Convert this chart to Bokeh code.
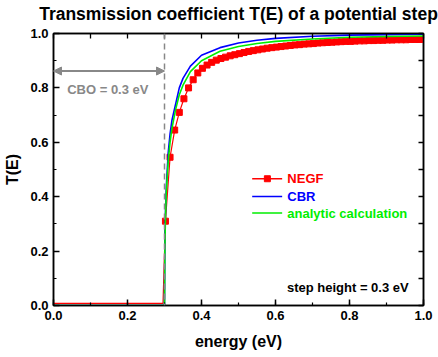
from bokeh.plotting import figure
from bokeh.models import (Range1d, LinearAxis, SingleIntervalTicker, FixedTicker,
                          NumeralTickFormatter, Span, Arrow, NormalHead, Label)
from bokeh.embed import file_html
from bokeh.resources import INLINE

# ---------------- data ----------------
# analytic calculation & CBR (sampled energies, eV)
e_model = [0.0, 0.3, 0.301, 0.303, 0.305, 0.31, 0.315, 0.32, 0.33, 0.34, 0.35, 0.37,
           0.4, 0.45, 0.5, 0.55, 0.6, 0.7, 0.8, 0.9, 1.0]
t_cbr = [0.0, 0.0, 0.25, 0.36, 0.44, 0.56, 0.63, 0.68, 0.74, 0.80, 0.835, 0.88,
         0.92, 0.948, 0.965, 0.975, 0.982, 0.99, 0.994, 0.996, 0.997]
t_analytic = [0.0, 0.0, 0.22, 0.34, 0.42, 0.53, 0.60, 0.65, 0.72, 0.775, 0.81, 0.86,
              0.90, 0.935, 0.952, 0.963, 0.971, 0.98, 0.986, 0.989, 0.991]

# NEGF: flat part below the step (line only)
e_negf_low = [0.0, 0.296]
t_negf_low = [0.008, 0.008]
# NEGF: computed points above the step (markers)
e_negf = [0.3025, 0.315, 0.3275, 0.34, 0.3525, 0.365, 0.3775, 0.39, 0.4025, 0.415,
          0.4275, 0.44, 0.4525, 0.465, 0.4775, 0.49, 0.5025, 0.515, 0.5275, 0.54,
          0.5525, 0.565, 0.5775, 0.59, 0.6025, 0.615, 0.6275, 0.64, 0.6525, 0.665,
          0.6775, 0.69, 0.7025, 0.715, 0.7275, 0.74, 0.7525, 0.765, 0.7775, 0.79,
          0.8025, 0.815, 0.8275, 0.84, 0.8525, 0.865, 0.8775, 0.89, 0.9025, 0.915,
          0.9275, 0.94, 0.9525, 0.965, 0.9775, 0.99]
t_negf = [0.31, 0.545, 0.645, 0.71, 0.76, 0.80, 0.83, 0.855, 0.872, 0.884,
          0.894, 0.902, 0.908, 0.913, 0.918, 0.922, 0.926, 0.93, 0.934, 0.937,
          0.94, 0.943, 0.946, 0.948, 0.95, 0.952, 0.954, 0.956, 0.958, 0.959,
          0.961, 0.962, 0.963, 0.965, 0.966, 0.967, 0.968, 0.969, 0.97, 0.971,
          0.971, 0.972, 0.973, 0.973, 0.974, 0.974, 0.975, 0.975, 0.976, 0.976,
          0.977, 0.977, 0.977, 0.978, 0.978, 0.978]

# tick marks for the mirrored (unlabelled) top and right axes
mirror_ticks = [0.0, 0.1, 0.2, 0.3, 0.4, 0.5, 0.6, 0.7, 0.8, 0.9, 1.0]

step_height = 0.3
cbo_level = 0.862

title_text = "Transmission coefficient T(E) of a potential step"
x_label = "energy (eV)"
y_label = "T(E)"

RED = "#ff0000"
BLUE = "#0000ff"
GREEN = "#00ee00"
GRAY = "#888888"
FONT = "Liberation Sans"

# ---------------- figure ----------------
p = figure(width=438, height=357, output_backend="svg", toolbar_location=None,
           title=None, x_range=Range1d(0, 1), y_range=Range1d(0, 1),
           min_border_left=53, min_border_right=15, min_border_top=0, min_border_bottom=52)
p.grid.visible = False
p.outline_line_color = "black"
p.outline_line_width = 1.5

for ax in (p.xaxis[0], p.yaxis[0]):
    ax.ticker = SingleIntervalTicker(interval=0.2, num_minor_ticks=2)
    ax.formatter = NumeralTickFormatter(format="0.0")
    ax.major_tick_in = 6
    ax.major_tick_out = 0
    ax.minor_tick_in = 3
    ax.minor_tick_out = 0
    ax.axis_line_width = 1.5
    ax.major_tick_line_width = 1.5
    ax.minor_tick_line_width = 1.2
    ax.major_label_text_font = FONT
    ax.major_label_text_font_style = "bold"
    ax.major_label_text_font_size = "13px"
    ax.major_label_text_color = "black"
    ax.axis_label_text_font = FONT
    ax.axis_label_text_font_style = "bold"
    ax.axis_label_text_font_size = "16px"
    ax.axis_label_text_color = "black"

p.xaxis[0].axis_label = x_label
p.xaxis[0].major_label_standoff = 5
p.xaxis[0].axis_label_standoff = 10
p.yaxis[0].axis_label = y_label
p.yaxis[0].major_label_standoff = 5
p.yaxis[0].axis_label_standoff = 6

for loc in ("right", "above"):
    ax = LinearAxis(ticker=FixedTicker(ticks=[], minor_ticks=mirror_ticks),
                    major_tick_in=0, major_tick_out=0, minor_tick_in=5, minor_tick_out=0,
                    axis_line_width=1.5, minor_tick_line_width=1.3,
                    major_label_standoff=0)
    if loc == "above":
        # chart title carried by the top axis, centred over the frame
        ax.axis_label = title_text
        ax.axis_label_text_font = FONT
        ax.axis_label_text_font_size = "17.5px"
        ax.axis_label_text_font_style = "bold"
        ax.axis_label_text_color = "black"
        ax.axis_label_standoff = 10
    p.add_layout(ax, loc)

# step marker
p.add_layout(Span(location=step_height, dimension="height", line_color=GRAY,
                  line_dash="6 4", line_width=1.5))
p.add_layout(Arrow(start=NormalHead(size=8, fill_color=GRAY, line_color=GRAY),
                   end=NormalHead(size=8, fill_color=GRAY, line_color=GRAY),
                   x_start=0.0, y_start=cbo_level, x_end=step_height, y_end=cbo_level,
                   line_color=GRAY, line_width=2))
p.add_layout(Label(x=0.037, y=0.794, text="CBO = 0.3 eV", text_font=FONT,
                   text_font_size="13px", text_font_style="bold", text_color=GRAY,
                   text_baseline="middle"))
p.add_layout(Label(x=0.631, y=0.067, text="step height = 0.3 eV", text_font=FONT,
                   text_font_size="13px", text_font_style="bold", text_color="black",
                   text_baseline="middle"))

# curves
p.line(e_negf_low + e_negf, t_negf_low + t_negf, line_color=RED, line_width=1.2)
p.scatter(e_negf, t_negf, marker="square", size=6, fill_color=RED, line_color=RED)
p.line(e_model, t_cbr, line_color=BLUE, line_width=1.6)
p.line(e_model, t_analytic, line_color=GREEN, line_width=1.6)

# legend (drawn manually so that labels take the series colours)
leg = [("NEGF", RED, 0.466), ("CBR", BLUE, 0.401), ("analytic calculation", GREEN, 0.340)]
for name, col, yy in leg:
    p.segment(x0=[0.537], y0=[yy], x1=[0.618], y1=[yy], line_color=col, line_width=1.6)
    if name == "NEGF":
        p.scatter([0.578], [yy], marker="square", size=6, fill_color=col, line_color=col)
    p.add_layout(Label(x=0.632, y=yy, text=name, text_font=FONT, text_font_size="13px",
                       text_font_style="bold", text_color=col, text_baseline="middle"))

open("out.html", "w").write(file_html(p, INLINE))
